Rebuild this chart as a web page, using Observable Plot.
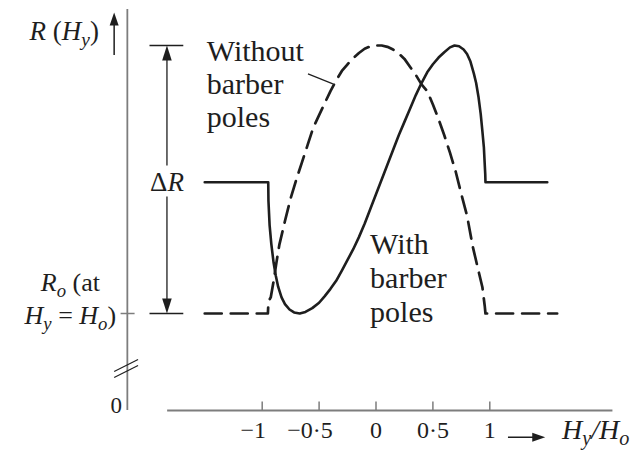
<!DOCTYPE html>
<html>
<head>
<meta charset="utf-8">
<script src="https://cdn.jsdelivr.net/npm/d3@7"></script>
<script src="https://cdn.jsdelivr.net/npm/@observablehq/plot@0.6"></script>
<style>
  body { margin: 0; background: #fff; }
  svg { display: block; }
  svg text { font-family: "Liberation Serif", serif; }
</style>
</head>
<body>
<div id="chart"></div>
<script>
// ---- Data (x = Hy/Ho, r = R normalised: Ro = 0, Ro + ΔR = 1) ----
const withPolesX = [-1.505, -0.947, -0.945, -0.935, -0.92, -0.9, -0.88, -0.86, -0.83, -0.8, -0.76, -0.72, -0.67, -0.62, -0.56, -0.5, -0.45, -0.4, -0.35, -0.3, -0.25, -0.2, -0.15, -0.1, -0.05, 0, 0.05, 0.1, 0.15, 0.2, 0.25, 0.3, 0.35, 0.4, 0.45, 0.5, 0.55, 0.6, 0.65, 0.69, 0.73, 0.77, 0.8, 0.83, 0.86, 0.88, 0.9, 0.92, 0.935, 0.948, 0.955, 0.96, 0.962, 1.505];
const withPolesR = [0.49, 0.49, 0.42, 0.33, 0.26, 0.19, 0.14, 0.1, 0.06, 0.035, 0.015, 0.004, 0, 0.006, 0.02, 0.04, 0.065, 0.092, 0.122, 0.16, 0.2, 0.24, 0.285, 0.335, 0.39, 0.445, 0.5, 0.555, 0.61, 0.665, 0.715, 0.765, 0.815, 0.86, 0.9, 0.93, 0.955, 0.975, 0.993, 1.0, 0.997, 0.985, 0.968, 0.94, 0.895, 0.86, 0.81, 0.745, 0.68, 0.62, 0.56, 0.52, 0.49, 0.49];

const withoutPolesX = [-1.505, -0.95, -0.945, -0.925, -0.9, -0.875, -0.85, -0.8, -0.75, -0.7, -0.65, -0.6, -0.55, -0.5, -0.45, -0.4, -0.35, -0.3, -0.25, -0.2, -0.15, -0.1, -0.05, 0, 0.05, 0.1, 0.15, 0.2, 0.25, 0.3, 0.35, 0.4, 0.45, 0.5, 0.55, 0.6, 0.65, 0.7, 0.75, 0.8, 0.85, 0.875, 0.9, 0.935, 0.955, 0.962, 1.592];
const withoutPolesR = [0, 0, 0.045, 0.06, 0.12, 0.19, 0.255, 0.345, 0.43, 0.5, 0.565, 0.63, 0.695, 0.74, 0.785, 0.83, 0.87, 0.905, 0.93, 0.953, 0.972, 0.988, 0.997, 1.0, 1.0, 0.995, 0.985, 0.97, 0.95, 0.92, 0.89, 0.855, 0.83, 0.78, 0.725, 0.665, 0.6, 0.53, 0.445, 0.365, 0.25, 0.205, 0.16, 0.098, 0.03, 0, 0];

const tickValues = [-1, -0.5, 0, 0.5, 1];
const tickLabels = ["−1", "−0·5", "0", "0·5", "1"];

// Text labels ({…} italic, […] italic subscript)
const yAxisTitle = "{R} ({H}[y])";
const deltaLabel = "Δ{R}";
const roLabel1 = "{R}[o] (at";
const roLabel2 = "{H}[y] = {H}[o])";
const zeroLabel = "0";
const xAxisTitle = "{H}[y]{/H}[o]";
const withoutLabel = "Without\nbarber\npoles";
const withLabel = "With\nbarber\npoles";

// ---- Build tables ----
const withPoles = withPolesX.map((x, i) => ({x, r: withPolesR[i]}));
const withoutPoles = withoutPolesX.map((x, i) => ({x, r: withoutPolesR[i]}));
const ticks = tickValues.map((v, i) => ({v, label: tickLabels[i]}));

const FONT = "'Liberation Serif', serif";
const INK = "#1e1e1e";
const AXIS = "#7d7d7d";

// annotation geometry (data units)
const axisX = -2.185, axisTop = 1.134, axisBottom = -0.362;
const xAxisLeft = -1.831, xAxisRight = 2.082;
const dimX = -1.837;

const k = v => () => v;
const txt = (o) => ({text: d => d, fill: INK, fontFamily: FONT, lineAnchor: "bottom", ...o});

const plot = Plot.plot({
  width: 635,
  height: 451,
  margin: 0,
  style: {fontFamily: FONT, background: "#fff", color: INK, overflow: "visible"},
  x: {domain: [-1, 1], range: [261.7, 489.3], axis: null},
  y: {domain: [0, 1], range: [313, 45], axis: null},
  marks: [
    // axes
    Plot.ruleX([axisX], {y1: axisBottom, y2: axisTop, stroke: AXIS, strokeWidth: 1.8}),
    Plot.ruleY([axisBottom], {x1: xAxisLeft, x2: xAxisRight, stroke: AXIS, strokeWidth: 1.8}),
    Plot.ruleX(ticks, {x: "v", y1: axisBottom, y2: axisBottom + 0.032, stroke: AXIS, strokeWidth: 1.5}),
    Plot.text(ticks.filter(d => d.v >= 0), {x: "v", y: k(-0.466), text: "label", fontSize: 24, lineAnchor: "bottom", fill: INK, fontFamily: FONT, textAnchor: "middle"}),
    Plot.text(ticks.filter(d => d.v < 0), {x: "v", y: k(-0.466), text: "label", fontSize: 24, lineAnchor: "bottom", fill: INK, fontFamily: FONT, textAnchor: "middle", dx: -9}),
    // R0 tick on y axis
    Plot.ruleY([0], {x1: -2.24, x2: -2.117, stroke: AXIS, strokeWidth: 1.5}),
    // axis break marks
    Plot.link([0, 1], {x1: k(-2.301), x2: k(-2.091), y1: i => -0.2164 - i * 0.0224, y2: i => -0.1716 - i * 0.0224, stroke: INK, strokeWidth: 1.2}),
    // curves
    Plot.line(withoutPoles, {x: "x", y: "r", stroke: INK, strokeWidth: 2.7, strokeDasharray: "17,9", strokeLinejoin: "round"}),
    Plot.line(withPoles, {x: "x", y: "r", stroke: INK, strokeWidth: 2.6, strokeLinejoin: "round"}),
    // ΔR dimension
    Plot.ruleY([0, 1], {x1: -1.986, x2: -1.689, stroke: INK, strokeWidth: 1.3}),
    Plot.ruleX([dimX], {y1: 0.55, y2: 0.97, stroke: INK, strokeWidth: 1.3}),
    Plot.ruleX([dimX], {y1: 0.03, y2: 0.435, stroke: INK, strokeWidth: 1.3}),
    Plot.vector([1], {x: k(dimX), y: k(1), length: 15, r: 4.8, rotate: 0, shape: "spike", anchor: "end", fill: INK, stroke: "none"}),
    Plot.vector([0], {x: k(dimX), y: k(0), length: 15, r: 4.8, rotate: 180, shape: "spike", anchor: "end", fill: INK, stroke: "none"}),
    // y-axis title arrow
    Plot.ruleX([-2.301], {y1: 0.963, y2: 1.09, stroke: INK, strokeWidth: 1.5}),
    Plot.vector([0], {x: k(-2.301), y: k(1.123), length: 13, r: 4.5, rotate: 0, shape: "spike", anchor: "end", fill: INK, stroke: "none"}),
    // x-axis title arrow
    Plot.ruleY([-0.4616], {x1: 1.164, x2: 1.45, stroke: INK, strokeWidth: 1.5}),
    Plot.vector([0], {x: k(1.487), y: k(-0.4616), length: 13, r: 4.5, rotate: 90, shape: "spike", anchor: "end", fill: INK, stroke: "none"}),
    // leader line for "Without barber poles"
    Plot.link([0], {x1: k(-0.5976), y1: k(0.894), x2: k(-0.3788), y2: k(0.857), stroke: INK, strokeWidth: 1.2}),
    // text labels
    Plot.text([yAxisTitle], txt({x: k(-2.74), y: k(1.0187), fontSize: 27, textAnchor: "middle"})),
    Plot.text([deltaLabel], txt({x: k(dimX), y: k(0.456), fontSize: 27, textAnchor: "middle"})),
    Plot.text([roLabel1], txt({x: k(-2.686), y: k(0.0832), fontSize: 26, textAnchor: "middle"})),
    Plot.text([roLabel2], txt({x: k(-2.686), y: k(-0.041), fontSize: 26, textAnchor: "middle"})),
    Plot.text([zeroLabel], txt({x: k(-2.231), y: k(-0.373), fontSize: 23, textAnchor: "end"})),
    Plot.text([xAxisTitle], txt({x: k(1.634), y: k(-0.4675), fontSize: 28, textAnchor: "start"})),
    Plot.text([withoutLabel], txt({x: k(-1.487), y: k(0.695), fontSize: 30, lineHeight: 1.1, textAnchor: "start"})),
    Plot.text([withLabel], txt({x: k(-0.052), y: k(-0.0325), fontSize: 30, lineHeight: 1.14, textAnchor: "start"}))
  ]
});

// Rich text: {…} italic, […] italic subscript
function richify(svg) {
  const NS = "http://www.w3.org/2000/svg";
  svg.querySelectorAll("text").forEach(t => {
    if (t.querySelector("tspan")) return;
    const s = t.textContent;
    if (!/[{\[]/.test(s)) return;
    t.textContent = "";
    const re = /\{([^}]*)\}|\[([^\]]*)\]|([^{\[]+)/g;
    let m, pendingUp = false;
    while ((m = re.exec(s))) {
      const ts = document.createElementNS(NS, "tspan");
      if (m[1] !== undefined) {
        ts.textContent = m[1];
        ts.setAttribute("font-style", "italic");
      } else if (m[2] !== undefined) {
        ts.textContent = m[2];
        ts.setAttribute("font-style", "italic");
        ts.setAttribute("font-size", "72%");
        ts.setAttribute("dy", "0.3em");
        t.appendChild(ts);
        pendingUp = true;
        continue;
      } else {
        ts.textContent = m[3];
      }
      if (pendingUp) { ts.setAttribute("dy", "-0.216em"); pendingUp = false; }
      t.appendChild(ts);
    }
  });
}
richify(plot);
document.getElementById("chart").appendChild(plot);
</script>
</body>
</html>
